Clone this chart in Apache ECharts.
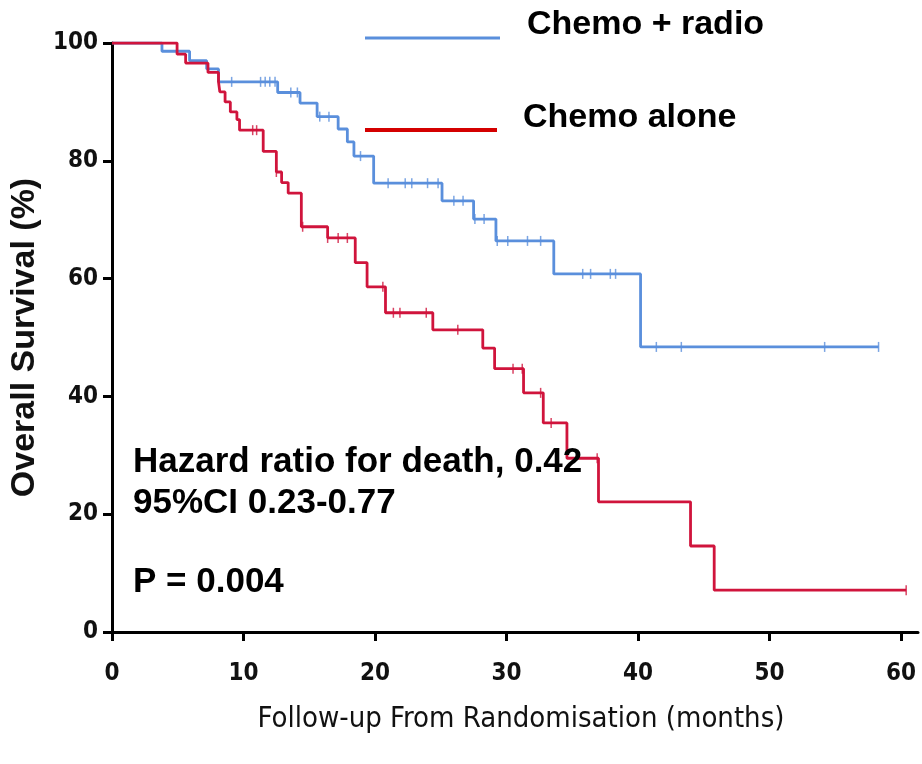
<!DOCTYPE html>
<html>
<head>
<meta charset="utf-8">
<script src="https://cdn.jsdelivr.net/npm/echarts@6/dist/echarts.min.js"></script>
<style>
  html, body { margin: 0; padding: 0; background: #fff; }
  #chart { width: 922px; height: 764px; }
</style>
</head>
<body>
<div id="chart"></div>
<script>
// step points [month, survival %] for each arm
const radioSteps = [
  [0, 100], [3.8, 98.6], [5.9, 97.0], [7.2, 95.6], [8.1, 93.4],
  [12.6, 91.6], [14.3, 89.8], [15.6, 87.5], [17.2, 85.4], [17.9, 83.2],
  [18.4, 80.8], [19.9, 76.2], [25.1, 73.2], [27.5, 70.1], [29.2, 66.4],
  [33.6, 60.8], [40.2, 48.4], [58.3, 48.4]
];
const aloneSteps = [
  [0, 100], [4.95, 98.1], [5.6, 96.6], [7.3, 95.0], [8.1, 93.4],
  [8.2, 91.7], [8.6, 90.0], [9.0, 88.3], [9.5, 87.0], [9.7, 85.2],
  [11.5, 81.6], [12.5, 78.1], [12.9, 76.3], [13.4, 74.5], [14.4, 68.8],
  [16.4, 66.9], [18.5, 62.7], [19.4, 58.6], [20.8, 54.2], [24.4, 51.3],
  [28.2, 48.2], [29.1, 44.7], [31.3, 40.6], [32.8, 35.5], [34.6, 29.5],
  [37.0, 22.1], [44.0, 14.6], [45.8, 7.1], [60.4, 7.1]
];
// censored observations (tick marks)
const radioCensor = [
  [9.1, 93.4], [11.3, 93.4], [11.65, 93.4], [12.0, 93.4], [12.4, 93.4],
  [13.6, 91.6], [14.1, 91.6], [15.8, 87.5], [16.5, 87.5], [18.9, 80.8],
  [21.0, 76.2], [22.3, 76.2], [22.8, 76.2], [24.0, 76.2], [24.8, 76.2],
  [26.0, 73.2], [26.7, 73.2], [27.6, 70.1], [28.3, 70.1],
  [29.3, 66.4], [30.1, 66.4], [31.6, 66.4], [32.6, 66.4],
  [35.8, 60.8], [36.4, 60.8], [37.9, 60.8], [38.3, 60.8],
  [41.4, 48.4], [43.3, 48.4], [54.2, 48.4], [58.3, 48.4]
];
const aloneCensor = [
  [10.7, 85.2], [11.0, 85.2], [12.5, 78.1], [14.5, 68.8],
  [16.4, 66.9], [17.2, 66.9], [17.9, 66.9], [20.6, 58.6],
  [21.4, 54.2], [21.9, 54.2], [23.9, 54.2], [26.3, 51.3],
  [30.5, 44.7], [31.2, 44.7], [32.6, 40.6], [33.4, 35.5],
  [36.9, 29.5], [60.4, 7.1]
];
const xTicks = [0, 10, 20, 30, 40, 50, 60];
const yTicks = [0, 20, 40, 60, 80, 100];

const blue = '#5a8fdc';
const red = '#d0143c';
const narrow = '"Liberation Sans Narrow", "DejaVu Sans Condensed", Arial, sans-serif';
const bold = 'Arial, "Liberation Sans", sans-serif';

const chart = echarts.init(document.getElementById('chart'));

const option = {
  animation: false,
  grid: { left: 112, right: 4, top: 43, bottom: 132 },
  xAxis: {
    type: 'value',
    min: 0,
    max: 61.3,
    name: 'Follow-up From Randomisation (months)',
    nameLocation: 'middle',
    nameGap: 73,
    nameTextStyle: { fontFamily: narrow, fontSize: 29, color: '#111', padding: [0, 0, 0, 12] },
    axisLine: { onZero: false, lineStyle: { color: '#000', width: 3 } },
    axisTick: { customValues: xTicks, length: 9, lineStyle: { color: '#000', width: 3 } },
    axisLabel: { customValues: xTicks, fontFamily: narrow, fontWeight: 'bold', fontSize: 24, color: '#111', margin: 30 },
    splitLine: { show: false }
  },
  yAxis: {
    type: 'value',
    min: 0,
    max: 100,
    interval: 20,
    name: 'Overall Survival (%)',
    nameLocation: 'middle',
    nameGap: 64,
    nameRotate: 90,
    nameTextStyle: { fontFamily: bold, fontWeight: 'bold', fontSize: 34, color: '#111' },
    axisLine: { show: true, lineStyle: { color: '#000', width: 3 } },
    axisTick: { show: true, customValues: yTicks, length: 9, lineStyle: { color: '#000', width: 3 } },
    axisLabel: { customValues: yTicks, fontFamily: narrow, fontWeight: 'bold', fontSize: 24, color: '#111', margin: 14 },
    splitLine: { show: false }
  },
  series: [
    {
      name: 'Chemo + radio',
      type: 'line',
      step: 'end',
      data: radioSteps,
      showSymbol: false,
      lineStyle: { color: blue, width: 2.8 },
      z: 3
    },
    {
      name: 'Chemo alone',
      type: 'line',
      step: 'end',
      data: aloneSteps,
      showSymbol: false,
      lineStyle: { color: red, width: 2.8 },
      z: 4
    },
    {
      type: 'scatter',
      data: radioCensor,
      symbol: 'rect',
      symbolSize: [1.5, 10],
      itemStyle: { color: blue },
      z: 3
    },
    {
      type: 'scatter',
      data: aloneCensor,
      symbol: 'rect',
      symbolSize: [1.5, 10],
      itemStyle: { color: red },
      z: 4
    }
  ],
  graphic: [
    { type: 'line', shape: { x1: 365, y1: 38, x2: 500, y2: 38 }, style: { stroke: blue, lineWidth: 3 } },
    { type: 'text', x: 527, y: 25, style: { text: 'Chemo + radio', font: 'bold 34px ' + bold, fill: '#000', verticalAlign: 'middle' } },
    { type: 'line', shape: { x1: 365, y1: 130, x2: 497, y2: 130 }, style: { stroke: '#d40000', lineWidth: 4 } },
    { type: 'text', x: 523, y: 118, style: { text: 'Chemo alone', font: 'bold 34px ' + bold, fill: '#000', verticalAlign: 'middle' } },
    { type: 'text', x: 133, y: 462, z: 10, style: { text: 'Hazard ratio for death, 0.42', font: 'bold 35px ' + bold, fill: '#000', verticalAlign: 'middle' } },
    { type: 'text', x: 133, y: 503, z: 10, style: { text: '95%CI 0.23-0.77', font: 'bold 35px ' + bold, fill: '#000', verticalAlign: 'middle' } },
    { type: 'text', x: 133, y: 582, z: 10, style: { text: 'P = 0.004', font: 'bold 35px ' + bold, fill: '#000', verticalAlign: 'middle' } }
  ]
};

chart.setOption(option);
</script>
</body>
</html>
